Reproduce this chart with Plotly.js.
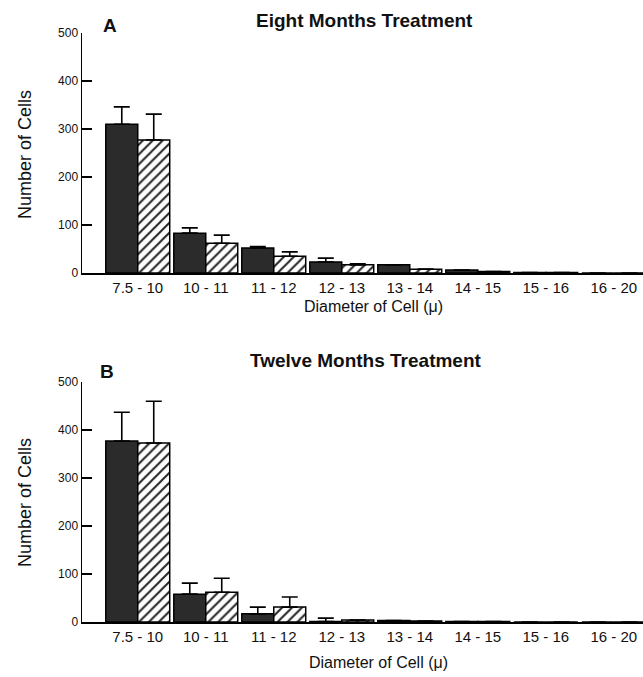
<!DOCTYPE html>
<html>
<head>
<meta charset="utf-8">
<script src="https://cdn.plot.ly/plotly-3.0.1.min.js"></script>
<style>html,body{margin:0;padding:0;background:#fff}#chart{width:643px;height:677px}</style>
</head>
<body>
<div id="chart"></div>
<script>
// ---- data ----
const categories = ['7.5 - 10', '10 - 11', '11 - 12', '12 - 13', '13 - 14', '14 - 15', '15 - 16', '16 - 20'];

const eightControl    = [310, 83, 52, 23, 17, 6, 1, 0];
const eightControlErr = [36, 11, 3, 8, null, null, null, null];
const eightTreated    = [277, 62, 35, 17, 8, 3, 1, 0];
const eightTreatedErr = [54, 17, 9, 2, null, null, null, null];

const twelveControl    = [377, 58, 17, 1, 3, 1, 0, 0];
const twelveControlErr = [60, 23, 14, 7, null, null, null, null];
const twelveTreated    = [373, 62, 31, 4, 2, 1, 0, 0];
const twelveTreatedErr = [87, 29, 21, null, null, null, null, null];

const yTicks = [0, 100, 200, 300, 400, 500];

const panelTitles = ['Eight Months Treatment', 'Twelve Months Treatment'];
const panelLetters = ['A', 'B'];
const xTitle = 'Diameter of Cell (\u03bc)';
const yTitle = 'Number of Cells';

// ---- styling helpers ----
const W = 643, H = 677;
const FONT = 'Liberation Sans, Arial, Helvetica, sans-serif';
const zeros = categories.map(() => 0);

function errCfg(arr) {
  return {type: 'data', symmetric: false, array: arr, arrayminus: zeros,
          color: '#000', thickness: 1.6, width: 8, visible: true};
}
function darkTrace(vals, errs, xa, ya) {
  return {type: 'bar', x: categories, y: vals, xaxis: xa, yaxis: ya,
    marker: {color: '#2b2b2b', line: {color: '#000', width: 1.5}},
    error_y: errCfg(errs), showlegend: false, hoverinfo: 'skip'};
}
function hatchTrace(vals, errs, xa, ya) {
  return {type: 'bar', x: categories, y: vals, xaxis: xa, yaxis: ya,
    marker: {color: '#fff', line: {color: '#000', width: 1.5},
      pattern: {shape: '/', fgcolor: '#222', bgcolor: '#fff', size: 7, solidity: 0.28, fillmode: 'replace'}},
    error_y: errCfg(errs), showlegend: false, hoverinfo: 'skip'};
}

const data = [
  darkTrace(eightControl, eightControlErr, 'x', 'y'),
  hatchTrace(eightTreated, eightTreatedErr, 'x', 'y'),
  darkTrace(twelveControl, twelveControlErr, 'x2', 'y2'),
  hatchTrace(twelveTreated, twelveTreatedErr, 'x2', 'y2')
];

function xAxis(anchor) {
  return {anchor: anchor, domain: [82 / W, 1], type: 'category', range: [-0.82, 7.43],
    showline: true, linecolor: '#000', linewidth: 2, ticks: '', showgrid: false, zeroline: false,
    tickfont: {family: FONT, size: 15, color: '#111'}, automargin: false, fixedrange: true};
}
function yAxis(pxTop, pxBottom, anchor) {
  return {anchor: anchor, domain: [1 - pxBottom / H, 1 - pxTop / H], range: [0, 500],
    tickvals: yTicks, ticks: 'inside', ticklen: 10, tickwidth: 1.5, tickcolor: '#000',
    showline: true, linecolor: '#000', linewidth: 1.5, showgrid: false, zeroline: false,
    tickfont: {family: FONT, size: 12, color: '#111'}, automargin: false, fixedrange: true};
}

function ann(text, px, py, size, bold, angle) {
  return {text: bold ? '<b>' + text + '</b>' : text, xref: 'paper', yref: 'paper',
    x: px / W, y: 1 - py / H, xanchor: 'center', yanchor: 'middle', showarrow: false,
    textangle: angle || 0, font: {family: FONT, size: size, color: '#111'}};
}

const layout = {
  width: W, height: H,
  margin: {l: 0, r: 0, t: 0, b: 0},
  paper_bgcolor: '#fff', plot_bgcolor: 'rgba(0,0,0,0)',
  barmode: 'group', bargap: 0.06, bargroupgap: 0,
  xaxis: xAxis('y'),
  yaxis: yAxis(33, 273, 'x'),
  xaxis2: xAxis('y2'),
  yaxis2: yAxis(382, 622, 'x2'),
  annotations: [
    ann(panelTitles[0], 364, 21, 19, true),
    ann(panelLetters[0], 110, 25, 19, true),
    ann(panelTitles[1], 366, 360, 19, true),
    ann(panelLetters[1], 107, 371, 19, true),
    ann(xTitle, 373, 306, 16, false),
    ann(xTitle, 378, 662, 16, false),
    ann(yTitle, 25, 155, 18, false, -90),
    ann(yTitle, 25, 503, 18, false, -90)
  ]
};

Plotly.newPlot('chart', data, layout, {staticPlot: true, displayModeBar: false});
</script>
</body>
</html>
